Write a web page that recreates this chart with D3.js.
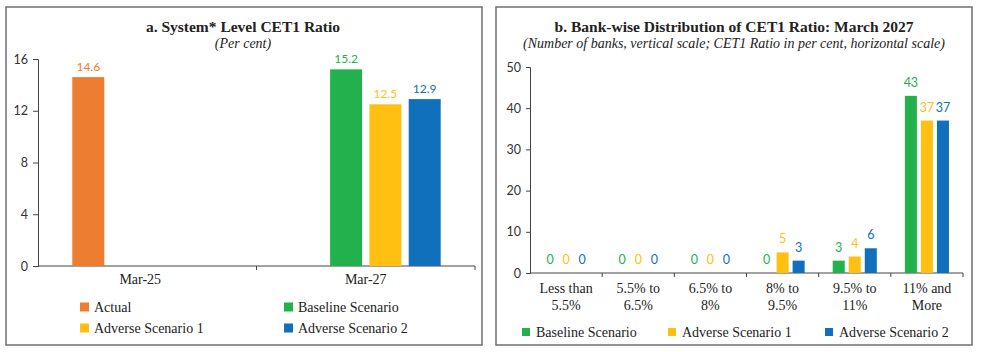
<!DOCTYPE html>
<html lang="en">
<head>
<meta charset="UTF-8">
<title>CET1 Ratio</title>
<script src="https://cdn.jsdelivr.net/npm/d3@7"></script>
<style>
  body { margin: 0; background: #fff; }
  .serif { font-family: "Liberation Serif", "DejaVu Serif", serif; fill: #222; }
  .num { font-family: Lato, "Open Sans", sans-serif; }
</style>
</head>
<body>
<div id="chart"></div>
<script>
// panel a data
const datesA = ["Mar-25", "Mar-27"];
const seriesA = ["Actual", "Baseline Scenario", "Adverse Scenario 1", "Adverse Scenario 2"];
const actualA = [14.6, null];
const baselineA = [null, 15.2];
const adverse1A = [null, 12.5];
const adverse2A = [null, 12.9];
const ticksA = [0, 4, 8, 12, 16];

// panel b data
const bandsB = [["Less than", "5.5%"], ["5.5% to", "6.5%"], ["6.5% to", "8%"], ["8% to", "9.5%"], ["9.5% to", "11%"], ["11% and", "More"]];
const seriesB = ["Baseline Scenario", "Adverse Scenario 1", "Adverse Scenario 2"];
const baselineB = [0, 0, 0, 0, 3, 43];
const adverse1B = [0, 0, 0, 5, 4, 37];
const adverse2B = [0, 0, 0, 3, 6, 37];
const ticksB = [0, 10, 20, 30, 40, 50];

const colors = {
  "Actual": "#ED7D31",
  "Baseline Scenario": "#22B14C",
  "Adverse Scenario 1": "#FFC012",
  "Adverse Scenario 2": "#1170BB"
};

const svg = d3.select("#chart").append("svg")
  .attr("width", 981).attr("height", 352);

// frames
[[6, 476], [496, 476]].forEach(([x, w]) => {
  svg.append("rect").attr("x", x).attr("y", 7).attr("width", w).attr("height", 338)
    .attr("fill", "none").attr("stroke", "#6f6f6f").attr("stroke-width", 1.5);
});

function titles(cx, t, sub) {
  svg.append("text").attr("class", "serif").attr("x", cx).attr("y", 32)
    .attr("text-anchor", "middle").style("font-weight", "bold").style("font-size", "15.5px").text(t);
  svg.append("text").attr("class", "serif").attr("x", cx).attr("y", 48)
    .attr("text-anchor", "middle").style("font-style", "italic").style("font-size", "14px").text(sub);
}

function yAxis(y, x0, ticks, tickLen) {
  const g = svg.append("g").attr("transform", `translate(${x0},0)`)
    .call(d3.axisLeft(y).tickValues(ticks).tickSize(tickLen).tickPadding(5));
  g.select(".domain").attr("stroke", "#444");
  g.selectAll(".tick line").attr("stroke", "#444");
  g.selectAll(".tick text").attr("class", "num").style("font-size", "12.5px").attr("fill", "#333");
}

function xBaseline(x, y0) {
  const r = x.range();
  svg.append("line").attr("x1", r[0]).attr("x2", r[1]).attr("y1", y0).attr("y2", y0)
    .attr("stroke", "#444");
  const edges = x.domain().map(d => x(d)).slice(1).concat([r[1]]);
  svg.selectAll(null).data(edges).enter().append("line")
    .attr("x1", d => d).attr("x2", d => d).attr("y1", y0).attr("y2", y0 + 4)
    .attr("stroke", "#444");
}

// ---------- panel a ----------
titles(243, "a. System* Level CET1 Ratio", "(Per cent)");
const xA = d3.scaleBand().domain(datesA).range([38, 475]);
const xAin = d3.scaleBand().domain(seriesA).range([0, xA.bandwidth()])
  .paddingInner(0.186).paddingOuter(0.873);
const yA = d3.scaleLinear().domain([0, 16]).range([266, 59]);
const valsA = [actualA, baselineA, adverse1A, adverse2A];

yAxis(yA, 38, ticksA, 5);
xBaseline(xA, 266);

const barsA = [];
datesA.forEach((d, i) => seriesA.forEach((s, j) => {
  if (valsA[j][i] != null) barsA.push({ d, s, v: valsA[j][i] });
}));
svg.selectAll(".barA").data(barsA).enter().append("rect")
  .attr("x", b => xA(b.d) + xAin(b.s)).attr("width", xAin.bandwidth())
  .attr("y", b => yA(b.v)).attr("height", b => yA(0) - yA(b.v))
  .attr("fill", b => colors[b.s]);
svg.selectAll(".lblA").data(barsA).enter().append("text")
  .attr("class", "num").attr("text-anchor", "middle")
  .attr("x", b => xA(b.d) + xAin(b.s) + xAin.bandwidth() / 2)
  .attr("y", b => yA(b.v) - 6).style("font-size", "12px")
  .attr("fill", b => colors[b.s]).text(b => b.v.toFixed(1));

svg.selectAll(".catA").data(datesA).enter().append("text")
  .attr("class", "serif").attr("text-anchor", "middle")
  .attr("x", d => xA(d) + xA.bandwidth() / 2 - (d === datesA[0] ? 7 : 0)).attr("y", 284)
  .style("font-size", "14px").text(d => d);

// legend a
const legA = [[80, 307], [284, 307], [80, 328], [284, 328]];
seriesA.forEach((s, i) => {
  const [lx, ly] = legA[i];
  svg.append("rect").attr("x", lx).attr("y", ly - 4.5).attr("width", 9).attr("height", 9).attr("fill", colors[s]);
  svg.append("text").attr("class", "serif").attr("x", lx + 14).attr("y", ly + 4.5)
    .style("font-size", "14px").text(s);
});

// ---------- panel b ----------
titles(734, "b. Bank-wise Distribution of CET1 Ratio: March 2027",
  "(Number of banks, vertical scale; CET1 Ratio in per cent, horizontal scale)");
const keysB = bandsB.map(b => b.join(" "));
const xB = d3.scaleBand().domain(keysB).range([530, 963]);
const xBin = d3.scaleBand().domain(seriesB).range([0, xB.bandwidth()])
  .paddingInner(0.25).paddingOuter(0.875);
const yB = d3.scaleLinear().domain([0, 50]).range([273, 67]);
const valsB = [baselineB, adverse1B, adverse2B];

yAxis(yB, 530, ticksB, 4);
xBaseline(xB, 273);

const barsB = [];
keysB.forEach((k, i) => seriesB.forEach((s, j) => barsB.push({ k, s, v: valsB[j][i] })));
svg.selectAll(".barB").data(barsB.filter(b => b.v > 0)).enter().append("rect")
  .attr("x", b => xB(b.k) + xBin(b.s)).attr("width", xBin.bandwidth())
  .attr("y", b => yB(b.v)).attr("height", b => yB(0) - yB(b.v))
  .attr("fill", b => colors[b.s]);
svg.selectAll(".lblB").data(barsB).enter().append("text")
  .attr("class", "num").attr("text-anchor", "middle")
  .attr("x", b => xB(b.k) + xBin(b.s) + xBin.bandwidth() / 2)
  .attr("y", b => yB(b.v) - 9).style("font-size", "12.5px")
  .attr("fill", b => colors[b.s]).text(b => b.v);

bandsB.forEach((b, i) => {
  const t = svg.append("text").attr("class", "serif").attr("text-anchor", "middle")
    .attr("x", xB(keysB[i]) + xB.bandwidth() / 2).attr("y", 293).style("font-size", "14px");
  b.forEach((line, j) => t.append("tspan").attr("x", xB(keysB[i]) + xB.bandwidth() / 2)
    .attr("dy", j ? 16.5 : 0).text(line));
});

// legend b
const legB = [522, 668, 825];
seriesB.forEach((s, i) => {
  svg.append("rect").attr("x", legB[i]).attr("y", 328).attr("width", 8).attr("height", 8).attr("fill", colors[s]);
  svg.append("text").attr("class", "serif").attr("x", legB[i] + 14).attr("y", 336.5)
    .style("font-size", "14px").text(s);
});
</script>
</body>
</html>
